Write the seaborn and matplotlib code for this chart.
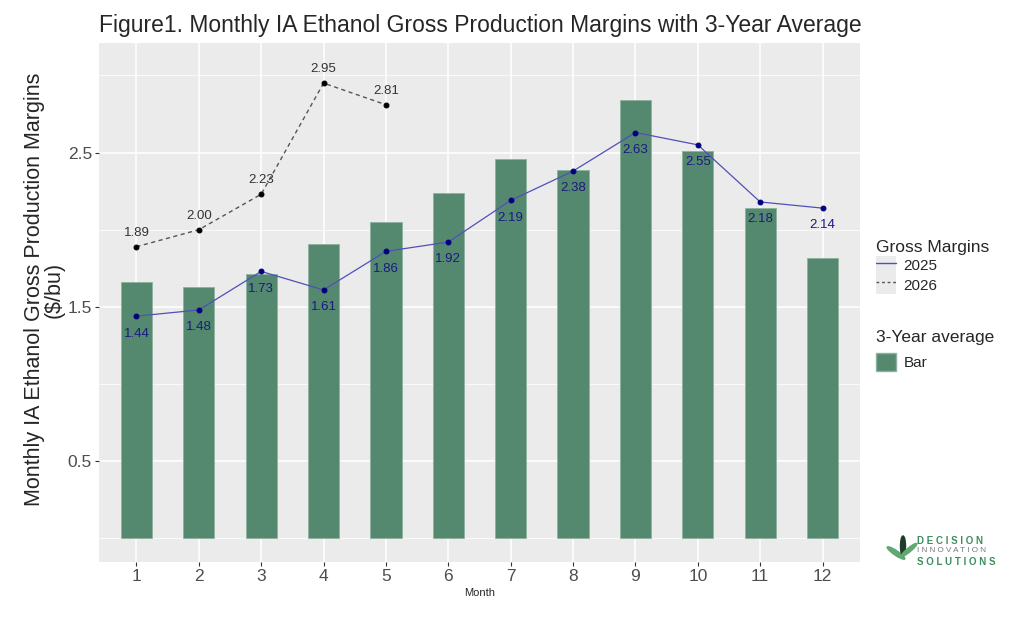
import numpy as np
import pandas as pd
import seaborn as sns
from matplotlib import pyplot as plt
from matplotlib.lines import Line2D
from matplotlib.patches import Rectangle, Ellipse
from matplotlib.legend_handler import HandlerTuple

#------------------------------------------------------------------------------
# Data
#------------------------------------------------------------------------------
months = [1, 2, 3, 4, 5, 6, 7, 8, 9, 10, 11, 12]
avg_3yr = [1.66, 1.63, 1.71, 1.91, 2.05, 2.24, 2.46, 2.39, 2.84, 2.51, 2.14, 1.82]
margin_2025 = [1.44, 1.48, 1.73, 1.61, 1.86, 1.92, 2.19, 2.38, 2.63, 2.55, 2.18, 2.14]
months_2026 = [1, 2, 3, 4, 5]
margin_2026 = [1.89, 2.00, 2.23, 2.95, 2.81]

bars = pd.DataFrame({'Month': months, 'avg': avg_3yr})
df25 = pd.DataFrame({'Month': months, 'margin': margin_2025})
df26 = pd.DataFrame({'Month': months_2026, 'margin': margin_2026})

#------------------------------------------------------------------------------
# Style
#------------------------------------------------------------------------------
sns.set_theme(style='darkgrid', rc={'axes.facecolor': '#EBEBEB',
                                    'grid.color': 'white'})
plt.rcParams['font.family'] = ['Liberation Sans', 'DejaVu Sans']

bar_color = '#55896F'
navy = '#00007F'

#------------------------------------------------------------------------------
# Plot figure
#------------------------------------------------------------------------------
fig, ax = plt.subplots(figsize=(10.24, 6.19), dpi=100)
fig.subplots_adjust(left=99/1024, right=860/1024, top=1-43/619, bottom=1-562/619)

sns.barplot(data=bars, x='Month', y='avg', native_scale=True, width=0.5,
            color=bar_color, saturation=1, edgecolor='#8DB19F', linewidth=0.6,
            ax=ax, zorder=2)

sns.lineplot(data=df25, x='Month', y='margin', color='#5050B8', lw=0.9,
             marker='o', markersize=3.5, markerfacecolor=navy, markeredgecolor=navy,
             ax=ax, zorder=3)
sns.lineplot(data=df26, x='Month', y='margin', color='#555555', lw=1.0,
             linestyle=(0, (3, 2.5)), marker='o', markersize=3.5,
             markerfacecolor='black', markeredgecolor='black', ax=ax, zorder=3)

for m, v in zip(months, margin_2025):
    ax.annotate(f'{v:.2f}', (m, v), xytext=(0, -12.5), textcoords='offset points',
                ha='center', va='center', fontsize=9.5, color='#1A1A80', zorder=4)
for m, v in zip(months_2026, margin_2026):
    ax.annotate(f'{v:.2f}', (m, v), xytext=(0, 10), textcoords='offset points',
                ha='center', va='center', fontsize=9.5, color='#333333', zorder=4)

ax.set_xlim(0.4, 12.6)
ax.set_ylim(-0.153, 3.21)
ax.set_xticks(months)
ax.set_xticklabels([str(m) for m in months])
ax.set_yticks([0.5, 1.5, 2.5])
ax.set_yticks([0, 1, 2, 3], minor=True)
ax.grid(which='major', color='white', lw=1.1)
ax.grid(which='minor', axis='y', color='white', lw=0.55)
ax.tick_params(axis='both', which='major', length=3, width=0.8, color='#333333',
               labelcolor='#4D4D4D', labelsize=12.5, pad=2)
ax.tick_params(axis='both', which='minor', length=0)
ax.tick_params(bottom=True, left=True)
for s in ax.spines.values():
    s.set_visible(False)

ax.set_xlabel('Month', fontsize=8, labelpad=3)
ax.set_ylabel('Monthly IA Ethanol Gross Production Margins\n($/bu)',
              fontsize=15.5, linespacing=0.95)
ax.yaxis.set_label_coords(-0.045, 0.525)
ax.set_title('Figure1. Monthly IA Ethanol Gross Production Margins with 3-Year Average',
             loc='left', fontsize=16.5, pad=8)

#------------------------------------------------------------------------------
# Legends
#------------------------------------------------------------------------------
key_bg = Rectangle((0, 0), 1, 1, facecolor='#EBEBEB', edgecolor='none')
h25 = (key_bg, Line2D([], [], color='#5050B8', lw=1))
h26 = (key_bg, Line2D([], [], color='#555555', lw=1, linestyle=(0, (2, 2))))
leg1 = fig.legend([h25, h26], ['2025', '2026'], title='Gross Margins',
                  handler_map={tuple: HandlerTuple(ndivide=1, pad=0)},
                  loc='upper left', bbox_to_anchor=(870/1024, 1-234/619),
                  frameon=False, fontsize=11, title_fontsize=12.5,
                  handlelength=1.3, handleheight=1.5, handletextpad=0.5,
                  labelspacing=0.05, borderaxespad=0)
leg1._legend_box.align = 'left'
leg2 = fig.legend([Rectangle((0, 0), 1, 1, facecolor=bar_color, edgecolor='#8DB19F')],
                  ['Bar'], title='3-Year average', loc='upper left',
                  bbox_to_anchor=(870/1024, 1-324/619), frameon=False,
                  fontsize=11, title_fontsize=12.5, handlelength=1.3,
                  handleheight=1.5, handletextpad=0.5, borderaxespad=0)
leg2._legend_box.align = 'left'

#------------------------------------------------------------------------------
# Logo
#------------------------------------------------------------------------------
green = '#3E8E5E'
fig.text(917/1024, 1-541/619, 'D E C I S I O N', fontsize=7, color=green,
         fontweight='bold', va='center')
fig.text(917/1024, 1-551/619, 'I N N O V A T I O N', fontsize=5.9, color='#777777',
         va='center')
fig.text(917/1024, 1-562/619, 'S O L U T I O N S', fontsize=7, color=green,
         fontweight='bold', va='center')
for (cx, cy, w, h, ang, col) in [(896, 553, 6, 16, 40, '#5FA871'),
                                 (903, 546, 5, 20, 0, '#1F3B2A'),
                                 (909, 550, 5, 16, -35, '#5FA871')]:
    fig.patches.append(Ellipse((cx/1024, 1-cy/619), w/1024, h/619, angle=ang,
                               transform=fig.transFigure, color=col))

#------------------------------------------------------------------------------
# Save figure
#------------------------------------------------------------------------------
plt.savefig('out.png', dpi=100)
